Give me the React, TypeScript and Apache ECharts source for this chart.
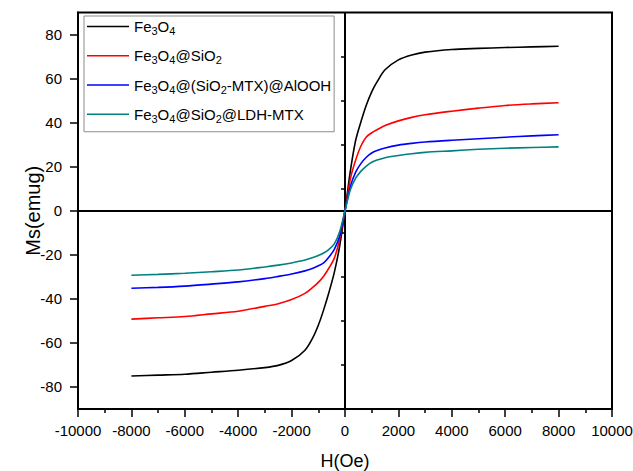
import React, { useEffect, useRef } from "react";
import * as echarts from "echarts";

// Magnetic field H (Oe)
const fieldH = [-8000, -7000, -6000, -5000, -4000, -3000, -2500, -2000, -1500, -1200, -1000, -800, -600, -400, -200, 0, 200, 400, 600, 800, 1000, 1200, 1500, 2000, 2500, 3000, 4000, 5000, 6000, 7000, 8000];

// Magnetization Ms (emu/g)
const msFe3O4 = [-75, -74.6, -74.2, -73.3, -72.4, -71.2, -70.2, -68, -63.3, -57.5, -52, -45, -37, -28, -16, 0, 18, 32, 40.5, 48, 54, 58.5, 64, 68.5, 70.7, 72, 73.2, 73.7, 74.1, 74.4, 74.7];
const msFe3O4SiO2 = [-49.2, -48.6, -48, -46.8, -45.6, -43.4, -42.2, -40.3, -37.5, -34.7, -32.5, -29.7, -26, -21.5, -13, 0, 14.5, 23, 29.5, 33.5, 35.4, 36.8, 38.7, 40.8, 42.4, 43.6, 45.2, 46.6, 47.8, 48.5, 49];
const msAlOOH = [-35.2, -34.8, -34.2, -33.3, -32.3, -30.8, -29.8, -28.7, -27.3, -26.1, -25, -23.7, -21, -17.5, -11.5, 0, 11, 17.5, 21.5, 24.3, 26.2, 27.3, 28.5, 29.8, 30.6, 31.2, 32, 32.7, 33.4, 34, 34.5];
const msLDH = [-29.3, -28.9, -28.4, -27.7, -26.9, -25.5, -24.7, -23.7, -22.4, -21.2, -20.3, -19.2, -17.5, -15, -9.5, 0, 9.5, 14.8, 18, 20.3, 22, 23, 24.1, 25.1, 25.9, 26.5, 27.2, 27.9, 28.4, 28.7, 29];

const seriesNames = ["Fe3O4", "Fe3O4@SiO2", "Fe3O4@(SiO2-MTX)@AlOOH", "Fe3O4@SiO2@LDH-MTX"];
const seriesRich = [
  "{n|Fe}{s|3}{n|O}{s|4}",
  "{n|Fe}{s|3}{n|O}{s|4}{n|@SiO}{s|2}",
  "{n|Fe}{s|3}{n|O}{s|4}{n|@(SiO}{s|2}{n|-MTX)@AlOOH}",
  "{n|Fe}{s|3}{n|O}{s|4}{n|@SiO}{s|2}{n|@LDH-MTX}",
];
const seriesValues = [msFe3O4, msFe3O4SiO2, msAlOOH, msLDH];
const seriesColors = ["#000000", "#ff0000", "#0000ff", "#008080"];

const xTicks = [-10000, 10000, 2000];
const yMajorTicks = [-80, -60, -40, -20, 0, 20, 40, 60, 80];
const yMinorTicks = [-70, -50, -30, -10, 10, 30, 50, 70];

const FONT = "'Liberation Sans', Arial, Helvetica, sans-serif";

export default function App() {
  const ref = useRef<HTMLDivElement>(null);
  useEffect(() => {
    document.body.style.margin = "0";
    if (!ref.current) return;
    const chart = echarts.init(ref.current, null, { renderer: "svg" });
    const gridPos = { left: 78, right: 21, top: 12.5, bottom: 62, containLabel: false, outerBoundsMode: "none" };
    const series: any[] = seriesNames.map((name, i) => ({
      name,
      type: "line",
      xAxisIndex: 0,
      yAxisIndex: 0,
      data: fieldH.map((h, j) => [h, seriesValues[i][j]]),
      symbol: "none",
      showSymbol: false,
      smooth: 0.3,
      lineStyle: { color: seriesColors[i], width: 1.6 },
      itemStyle: { color: seriesColors[i] },
      z: 3,
    }));
    series[0].markLine = {
      silent: true,
      symbol: ["none", "none"],
      label: { show: false },
      lineStyle: { color: "#000", width: 2, type: "solid" },
      emphasis: { disabled: true },
      data: [{ xAxis: 0 }, { yAxis: 0 }],
      z: 1,
    };
    chart.setOption({
      animation: false,
      backgroundColor: "#ffffff",
      textStyle: { fontFamily: FONT },
      grid: [
        { ...gridPos, show: true, borderColor: "#000", borderWidth: 2, backgroundColor: "transparent" },
        { ...gridPos },
      ],
      legend: {
        left: 84,
        top: 16,
        orient: "vertical",
        selectedMode: false,
        backgroundColor: "#fff",
        borderColor: "#8c8c8c",
        borderWidth: 1,
        padding: [3, 3, 7.5, 3],
        icon: "rect",
        itemWidth: 42,
        itemHeight: 1.6,
        itemGap: 11.75,
        data: seriesNames,
        formatter: (name: string) => seriesRich[seriesNames.indexOf(name)],
        textStyle: {
          fontFamily: FONT,
          color: "#000",
          fontSize: 15,
          rich: {
            n: { fontSize: 15, lineHeight: 20, fontFamily: FONT, color: "#000" },
            s: { fontSize: 11, lineHeight: 6, verticalAlign: "bottom", fontFamily: FONT, color: "#000" },
          },
        },
      },
      xAxis: [
        {
          type: "value",
          gridIndex: 0,
          min: xTicks[0],
          max: xTicks[1],
          interval: xTicks[2],
          position: "bottom",
          name: "H(Oe)",
          nameLocation: "middle",
          nameGap: 43,
          nameMoveOverlap: false,
          nameTextStyle: { fontSize: 18, color: "#000", fontFamily: FONT },
          axisLine: { show: true, onZero: false, lineStyle: { color: "#000", width: 2 } },
          axisTick: { show: true, inside: false, length: 8, lineStyle: { color: "#000", width: 1.5 } },
          minorTick: { show: true, splitNumber: 2, length: 4, lineStyle: { color: "#000", width: 1.5 } },
          splitLine: { show: false },
          minorSplitLine: { show: false },
          axisLabel: {
            fontSize: 15,
            color: "#000",
            margin: 14,
            fontFamily: FONT,
            showMinLabel: true,
            showMaxLabel: true,
            hideOverlap: false,
            formatter: (v: number) => String(v),
          },
        },
        {
          type: "value",
          gridIndex: 1,
          min: xTicks[0],
          max: xTicks[1],
          show: false,
        },
      ],
      yAxis: [
        {
          type: "value",
          gridIndex: 0,
          min: -90,
          max: 90,
          interval: 10,
          position: "left",
          name: "Ms(emug)",
          nameLocation: "middle",
          nameGap: 35,
          nameMoveOverlap: false,
          nameTextStyle: { fontSize: 20, color: "#000", fontFamily: FONT },
          axisLine: { show: true, onZero: false, lineStyle: { color: "#000", width: 2 } },
          axisTick: { show: true, inside: false, length: 8, customValues: yMajorTicks, lineStyle: { color: "#000", width: 1.5 } },
          splitLine: { show: false },
          axisLabel: {
            fontSize: 15,
            color: "#000",
            margin: 16,
            fontFamily: FONT,
            customValues: yMajorTicks,
            formatter: (v: number) => String(v),
          },
        },
        {
          type: "value",
          gridIndex: 1,
          min: -90,
          max: 90,
          interval: 10,
          position: "left",
          axisLine: { show: false },
          axisTick: { show: true, inside: false, length: 4, customValues: yMinorTicks, lineStyle: { color: "#000", width: 1.5 } },
          axisLabel: { show: false },
          splitLine: { show: false },
        },
      ],
      series,
    });
    return () => chart.dispose();
  }, []);
  return <div ref={ref} style={{ width: 633, height: 471 }} />;
}
